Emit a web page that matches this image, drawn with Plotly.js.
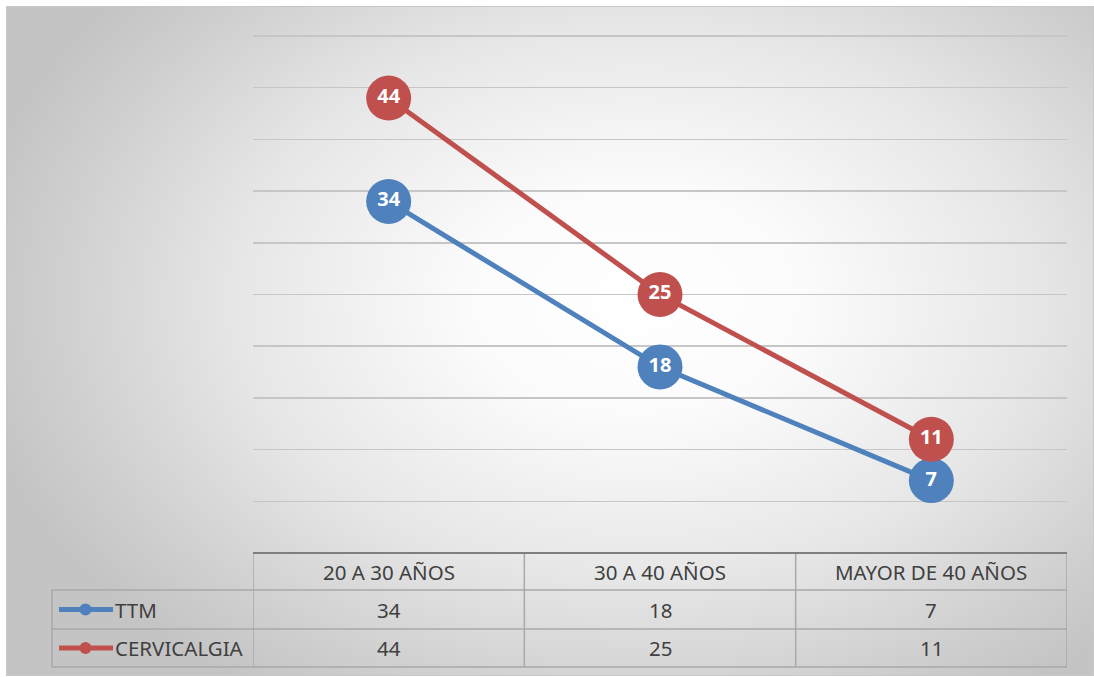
<!DOCTYPE html>
<html>
<head>
<meta charset="utf-8">
<script src="https://cdn.plot.ly/plotly-3.0.1.min.js"></script>
<style>
  html, body { margin: 0; padding: 0; background: #ffffff; }
  #wrap { position: relative; width: 1094px; height: 677px; }
  #bg { position: absolute; left: 6px; top: 6px; width: 1086px; height: 668px;
        border: 1px solid #c8c8c8;
        background: radial-gradient(ellipse 62% 70% at 58% 44%, #ffffff 0%, #fbfbfb 25%, #e6e6e6 60%, #d0d0d0 85%, #c4c4c4 100%); }
  #chart { position: absolute; left: 0; top: 0; width: 1094px; height: 677px; }
</style>
</head>
<body>
<div id="wrap"><div id="bg"></div><div id="chart"></div></div>
<script>
const categories = ['20 A 30 AÑOS', '30 A 40 AÑOS', 'MAYOR DE 40 AÑOS'];
const seriesNames = ['TTM', 'CERVICALGIA'];
const ttm = [34, 18, 7];
const cervicalgia = [44, 25, 11];
const seriesColors = ['#4f81bd', '#c0504d'];
const seriesValues = [ttm, cervicalgia];

const xIdx = categories.map((c, i) => i);
const H = 677, W = 1094;
const py = v => (H - v) / H;   // pixel y -> paper y
const px = v => v / W;         // pixel x -> paper x

const yMax = 50.6;
const plotBottom = 553, pxPerUnit = (553 - 36) / 50;
const plotTop = plotBottom - yMax * pxPerUnit;
const rowEdges = [553, 590, 629, 667];
const leftX = 52, plotL = 253, plotR = 1067;
const labelFont = "'Noto Sans', 'Open Sans', sans-serif";

const traces = seriesValues.map((vals, s) => ({
  type: 'scatter',
  mode: 'lines+markers+text',
  name: seriesNames[s],
  x: xIdx,
  y: vals,
  text: vals.map(String),
  textposition: 'middle center',
  textfont: { family: labelFont, size: 20, color: '#ffffff', weight: 'bold' },
  line: { color: seriesColors[s], width: 5 },
  marker: { color: seriesColors[s], size: 45, line: { width: 0 } },
  cliponaxis: false,
  hoverinfo: 'skip'
}));

const shapes = [];
const annotations = [];
const borderColor = '#a9a9a9';

[-0.5, 0.5, 1.5, 2.5].forEach(xv => {
  shapes.push({ type: 'line', xref: 'x', yref: 'paper', x0: xv, x1: xv,
    y0: py(rowEdges[3]), y1: py(rowEdges[0]), line: { color: borderColor, width: 1.5 } });
});
shapes.push({ type: 'line', xref: 'paper', yref: 'paper', x0: px(leftX), x1: px(leftX),
  y0: py(rowEdges[3]), y1: py(rowEdges[1]), line: { color: borderColor, width: 1.5 } });
[rowEdges[1], rowEdges[2], rowEdges[3]].forEach(yv => {
  shapes.push({ type: 'line', xref: 'paper', yref: 'paper', x0: px(leftX), x1: px(plotR),
    y0: py(yv), y1: py(yv), line: { color: borderColor, width: 1.5 } });
});
shapes.push({ type: 'line', xref: 'paper', yref: 'paper', x0: px(plotL), x1: px(plotR),
  y0: py(rowEdges[0]), y1: py(rowEdges[0]), line: { color: '#7f7f7f', width: 2 } });

const cellFont = { family: labelFont, size: 20.5, color: '#404040' };
categories.forEach((c, i) => {
  annotations.push({ xref: 'x', yref: 'paper', x: i, y: py((rowEdges[0] + rowEdges[1]) / 2),
    text: c, showarrow: false, font: cellFont, xanchor: 'center', yanchor: 'middle' });
});
seriesValues.forEach((vals, s) => {
  const yc = py((rowEdges[s + 1] + rowEdges[s + 2]) / 2);
  vals.forEach((v, i) => {
    annotations.push({ xref: 'x', yref: 'paper', x: i, y: yc, text: String(v),
      showarrow: false, font: cellFont, xanchor: 'center', yanchor: 'middle' });
  });
  shapes.push({ type: 'line', xref: 'paper', yref: 'paper', x0: px(59), x1: px(113),
    y0: yc, y1: yc, line: { color: seriesColors[s], width: 5 } });
  shapes.push({ type: 'circle', xref: 'paper', yref: 'paper', x0: px(79.5), x1: px(91.5),
    y0: yc - 6 / H, y1: yc + 6 / H, fillcolor: seriesColors[s], line: { width: 0 } });
  annotations.push({ xref: 'paper', yref: 'paper', x: px(113), y: yc, text: seriesNames[s],
    showarrow: false, font: cellFont, xanchor: 'left', yanchor: 'middle' });
});

const layout = {
  width: W, height: H,
  margin: { l: 0, r: 0, t: 0, b: 0 },
  paper_bgcolor: 'rgba(0,0,0,0)',
  plot_bgcolor: 'rgba(0,0,0,0)',
  showlegend: false,
  xaxis: { domain: [px(plotL), px(plotR)], range: [-0.5, 2.5], showgrid: false,
    showticklabels: false, zeroline: false, showline: false, fixedrange: true },
  yaxis: { domain: [py(plotBottom), py(plotTop)], range: [0, yMax], tick0: 0, dtick: 5,
    showgrid: true, gridcolor: '#c6c6c6', gridwidth: 1.5, showticklabels: false,
    zeroline: false, showline: false, fixedrange: true },
  shapes: shapes,
  annotations: annotations
};

Plotly.newPlot('chart', traces, layout, { displayModeBar: false, staticPlot: true });
</script>
</body>
</html>
